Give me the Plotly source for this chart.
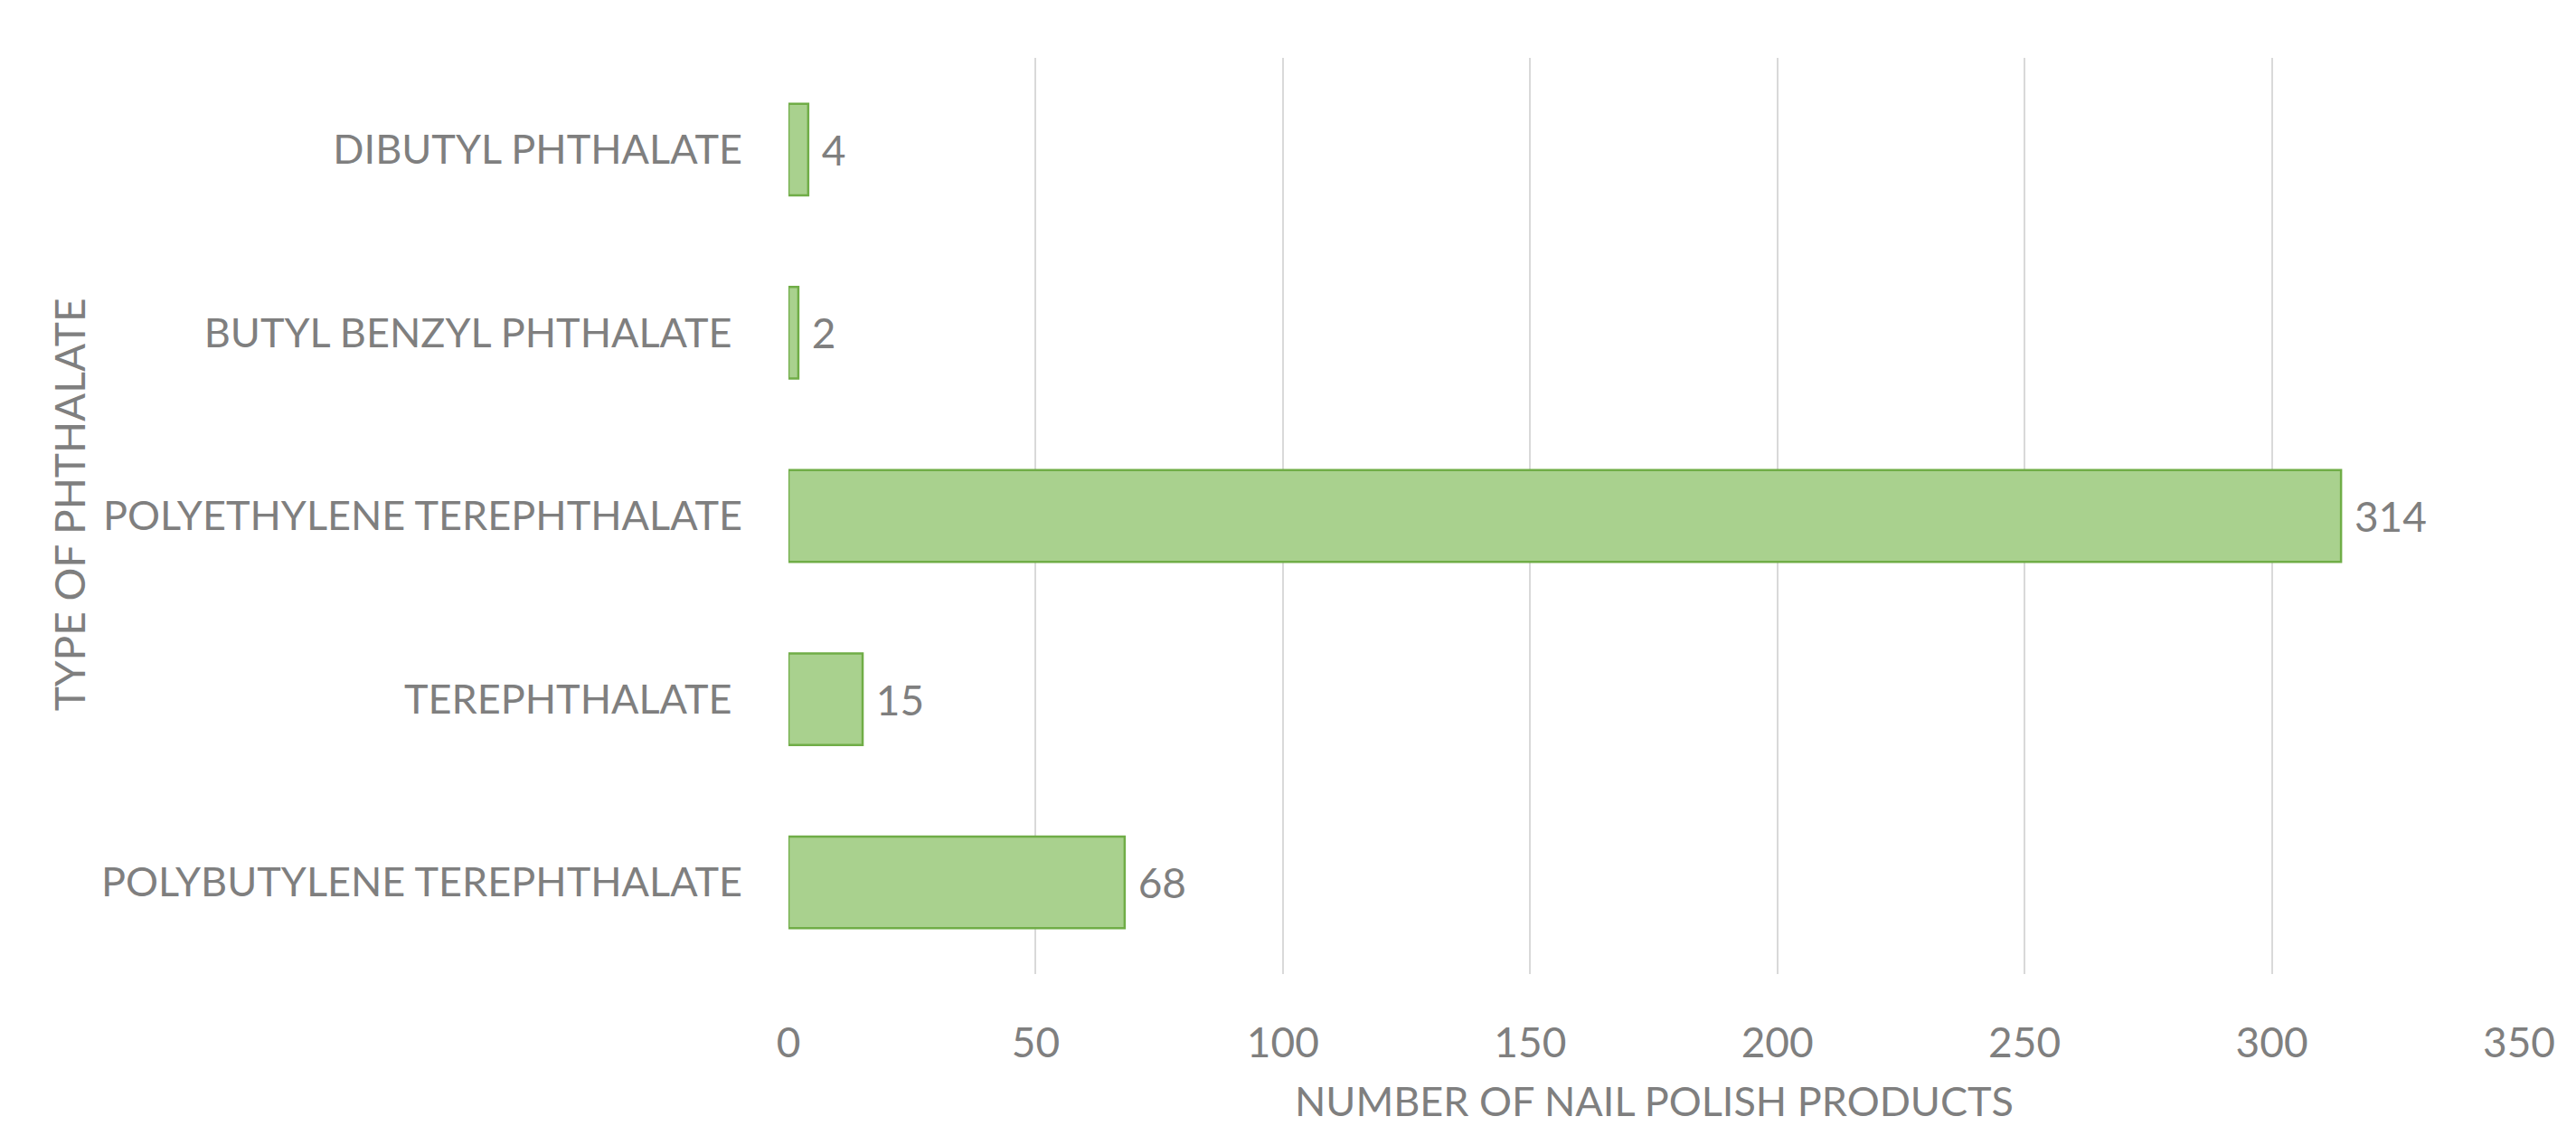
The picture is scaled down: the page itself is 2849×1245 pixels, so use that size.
import plotly.graph_objects as go

categories = [
    "DIBUTYL PHTHALATE",
    "BUTYL BENZYL PHTHALATE\u00a0",
    "POLYETHYLENE TEREPHTHALATE",
    "TEREPHTHALATE\u00a0",
    "POLYBUTYLENE TEREPHTHALATE",
]
counts = [4, 2, 314, 15, 68]
x_ticks = [0, 50, 100, 150, 200, 250, 300, 350]
x_title = "NUMBER OF NAIL POLISH PRODUCTS"
y_title = "TYPE OF PHTHALATE"

GRAY = "#7F7F7F"
FONT = "Lato, Open Sans, sans-serif"
FS = 45

fig = go.Figure(
    go.Bar(
        y=categories,
        x=counts,
        orientation="h",
        marker=dict(color="#A9D18E", line=dict(color="#70AD47", width=2.5)),
        text=counts,
        texttemplate="\u00a0%{x}",
        textposition="outside",
        cliponaxis=False,
        textfont=dict(family=FONT, size=FS + 1, color=GRAY),
    )
)

fig.update_layout(
    width=2849,
    height=1245,
    paper_bgcolor="white",
    plot_bgcolor="white",
    margin=dict(l=864, r=71, t=56, b=176),
    bargap=0.5,
    showlegend=False,
    font=dict(family=FONT, size=FS, color=GRAY),
    annotations=[
        dict(text=x_title, xref="paper", yref="paper", x=0.5, y=-0.138,
             xanchor="center", yanchor="middle", showarrow=False,
             font=dict(family=FONT, size=FS, color=GRAY)),
        dict(text=y_title, xref="paper", yref="paper", x=-0.4159, y=0.513,
             xanchor="center", yanchor="middle", textangle=-90, showarrow=False,
             font=dict(family=FONT, size=FS + 1, color=GRAY)),
    ],
)

fig.update_xaxes(
    range=[0, 350],
    tickvals=x_ticks,
    showgrid=True,
    gridcolor="#D9D9D9",
    gridwidth=2,
    zeroline=False,
    showline=False,
    automargin=False,
    ticklabelstandoff=45,
    tickfont=dict(family=FONT, size=FS + 1, color=GRAY),
)

fig.update_yaxes(
    autorange="reversed",
    showgrid=False,
    showline=False,
    automargin=False,
    ticklabelstandoff=50,
    tickfont=dict(family=FONT, size=FS, color=GRAY),
)

fig.write_html("out.html")
